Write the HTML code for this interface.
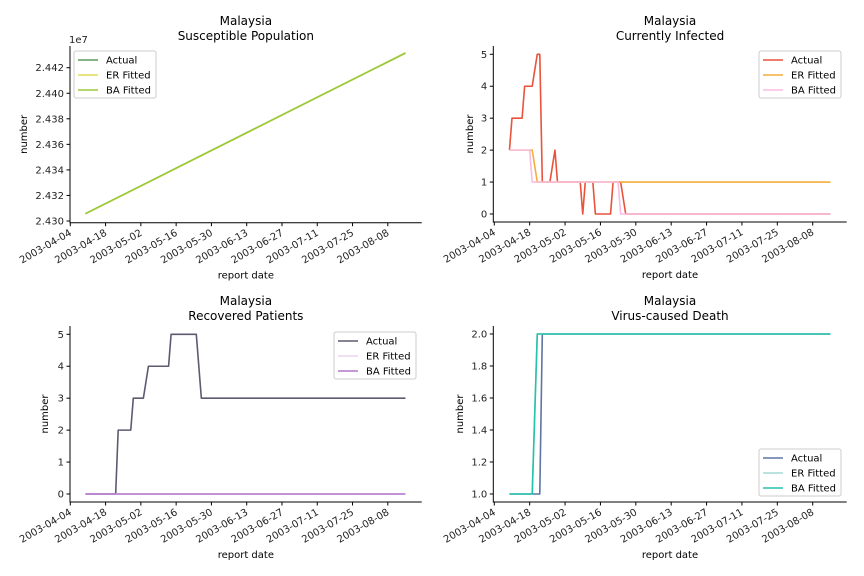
<!DOCTYPE html>
<html><head><meta charset="utf-8"><style>
body{margin:0;background:#fff;}
svg{display:block;font-family:"DejaVu Sans","Liberation Sans",sans-serif;}
</style></head><body>
<svg id="c" width="864" height="576" viewBox="0 0 864 576"></svg>
<script>
const tickDates=["2003-04-04","2003-04-18","2003-05-02","2003-05-16","2003-05-30","2003-06-13","2003-06-27","2003-07-11","2003-07-25","2003-08-08"];
// Susceptible population (values x1e7)
const susActual=[["2003-04-10",2.43057],["2003-08-15",2.44315]];
const susER=[["2003-04-10",2.43057],["2003-08-15",2.44315]];
const susBA=[["2003-04-10",2.43057],["2003-08-15",2.44315]];
const susTicks=[2.430,2.432,2.434,2.436,2.438,2.440,2.442];
// Currently infected
const infActual=[["2003-04-10",2],["2003-04-11",3],["2003-04-15",3],["2003-04-16",4],["2003-04-19",4],["2003-04-21",5],["2003-04-22",5],["2003-04-23",1],["2003-04-26",1],["2003-04-28",2],["2003-04-29",1],["2003-05-08",1],["2003-05-09",0],["2003-05-10",1],["2003-05-13",1],["2003-05-14",0],["2003-05-20",0],["2003-05-21",1],["2003-05-24",1],["2003-05-26",0],["2003-08-15",0]];
const infER=[["2003-04-10",2],["2003-04-19",2],["2003-04-21",1],["2003-08-15",1]];
const infBA=[["2003-04-10",2],["2003-04-18",2],["2003-04-19",1],["2003-05-23",1],["2003-05-24",0],["2003-08-15",0]];
const countTicks=[0,1,2,3,4,5];
// Recovered
const recActual=[["2003-04-10",0],["2003-04-22",0],["2003-04-23",2],["2003-04-28",2],["2003-04-29",3],["2003-05-03",3],["2003-05-05",4],["2003-05-13",4],["2003-05-14",5],["2003-05-24",5],["2003-05-26",3],["2003-08-15",3]];
const recER=[["2003-04-10",0],["2003-08-15",0]];
const recBA=[["2003-04-10",0],["2003-08-15",0]];
// Deaths
const deaActual=[["2003-04-10",1],["2003-04-22",1],["2003-04-23",2],["2003-08-15",2]];
const deaER=[["2003-04-10",1],["2003-04-19",1],["2003-04-21",2],["2003-08-15",2]];
const deaBA=[["2003-04-10",1],["2003-04-19",1],["2003-04-21",2],["2003-08-15",2]];
const deaTicks=[1.0,1.2,1.4,1.6,1.8,2.0];

const NS="http://www.w3.org/2000/svg";
const svg=document.getElementById('c');
function mk(tag,at,parent){const e=document.createElementNS(NS,tag);for(const k in at)e.setAttribute(k,at[k]);(parent||svg).appendChild(e);return e;}
const base=Date.UTC(2003,3,4);
function dayOf(s){const p=s.split('-');return (Date.UTC(+p[0],+p[1]-1,+p[2])-base)/86400000;}

function panel(o){
  const g=mk('g',{});
  
  
  const X=d=>o.x0+d*o.pxd;
  const Y=v=>o.y0+(v-o.v0)*o.pxv;
  const t1=mk('text',{x:(o.L+o.R)/2,y:o.T-21,'text-anchor':'middle','font-size':12,fill:'#000'},g);
  t1.textContent='Malaysia';
  
  const t2=mk('text',{x:(o.L+o.R)/2,y:o.T-6,'text-anchor':'middle','font-size':12,fill:'#000'},g);
  t2.textContent=o.title;
  
  const ax=mk('path',{d:`M${o.L},${o.T}V${o.B}H${o.R}`,stroke:'#000','stroke-width':1,fill:'none'},g);
  
  tickDates.forEach(s=>{
    const x=X(dayOf(s));
    const tk=mk('line',{x1:x,x2:x,y1:o.B,y2:o.B+3.5,stroke:'#000'},g);
    
    const tx=mk('text',{x:x+2,y:o.B+12,'text-anchor':'end','font-size':10,fill:'#222',transform:`rotate(-30 ${x+2} ${o.B+12})`},g);
    tx.textContent=s;
    
  });
  o.yt.forEach(v=>{
    const y=Y(v);
    const tk=mk('line',{x1:o.L-3.5,x2:o.L,y1:y,y2:y,stroke:'#000'},g);
    
    const tx=mk('text',{x:o.L-6,y:y+3.5,'text-anchor':'end','font-size':10,fill:'#222'},g);
    tx.textContent=v.toFixed(o.dec);
    
  });
  if(o.exp){const e=mk('text',{x:o.L-1,y:o.T-3,'font-size':10,fill:'#222'},g);e.textContent='1e7';
    }
  const xl=mk('text',{x:(o.L+o.R)/2,y:o.B+56,'text-anchor':'middle','font-size':10,fill:'#000'},g);
  xl.textContent='report date';
  
  const yc=(o.T+o.B)/2, yx=o.yl;
  const yl=mk('text',{x:yx,y:yc,'text-anchor':'middle','font-size':10,fill:'#000',transform:`rotate(-90 ${yx} ${yc})`},g);
  yl.textContent='number';
  
  o.series.forEach(s=>{
    const d=s.data.map((p,i)=>(i?'L':'M')+X(dayOf(p[0])).toFixed(2)+','+Y(p[1]).toFixed(2)).join('');
    const pl=mk('path',{d:d,stroke:s.color,'stroke-width':1.6,fill:'none','stroke-linejoin':'round'},g);
    
    
  });
  const lg=mk('g',{},g);
  
  mk('rect',{x:o.lx,y:o.ly,width:82,height:47,rx:2,fill:'#fff','fill-opacity':0.85,stroke:'#ccc'},lg);
  o.series.forEach((s,i)=>{
    const yy=o.ly+9+i*15;
    const e=mk('g',{},lg);
    
    mk('line',{x1:o.lx+4,x2:o.lx+24,y1:yy,y2:yy,stroke:s.color,'stroke-width':1.6},e);
    const tx=mk('text',{x:o.lx+32,y:yy+3.5,'font-size':10,fill:'#000'},e);
    tx.textContent=s.label;
  });
}

panel({name:'susceptible-panel',title:'Susceptible Population',L:70,R:421.7,T:46,B:222.7,x0:70.3,pxd:2.52,y0:221,v0:2.430,pxv:-12775,yt:susTicks,dec:3,exp:true,yl:27,lx:74,ly:51,
  series:[{label:'Actual',color:'#5e9a5e',data:susActual},{label:'ER Fitted',color:'#e3dc55',data:susER},{label:'BA Fitted',color:'#9ccb3a',data:susBA}]});
panel({name:'infected-panel',title:'Currently Infected',L:493.3,R:846.7,T:46,B:222,x0:494.3,pxd:2.527,y0:214,v0:0,pxv:-31.94,yt:countTicks,dec:0,yl:473,lx:759,ly:51,
  series:[{label:'Actual',color:'#e9533b',data:infActual},{label:'ER Fitted',color:'#f6ad3c',data:infER},{label:'BA Fitted',color:'#f8bde0',data:infBA}]});
panel({name:'recovered-panel',title:'Recovered Patients',L:70,R:421.7,T:326,B:502,x0:70.3,pxd:2.52,y0:494,v0:0,pxv:-31.94,yt:countTicks,dec:0,yl:48,lx:334,ly:332,
  series:[{label:'Actual',color:'#5e5a72',data:recActual},{label:'ER Fitted',color:'#ecd3f0',data:recER},{label:'BA Fitted',color:'#b476cc',data:recBA}]});
panel({name:'death-panel',title:'Virus-caused Death',L:493.3,R:846.7,T:326,B:502,x0:494.3,pxd:2.527,y0:494,v0:1,pxv:-160,yt:deaTicks,dec:1,yl:463,lx:759,ly:449,
  series:[{label:'Actual',color:'#5f75a3',data:deaActual},{label:'ER Fitted',color:'#a3d9d3',data:deaER},{label:'BA Fitted',color:'#25c2aa',data:deaBA}]});
</script>
</body></html>
